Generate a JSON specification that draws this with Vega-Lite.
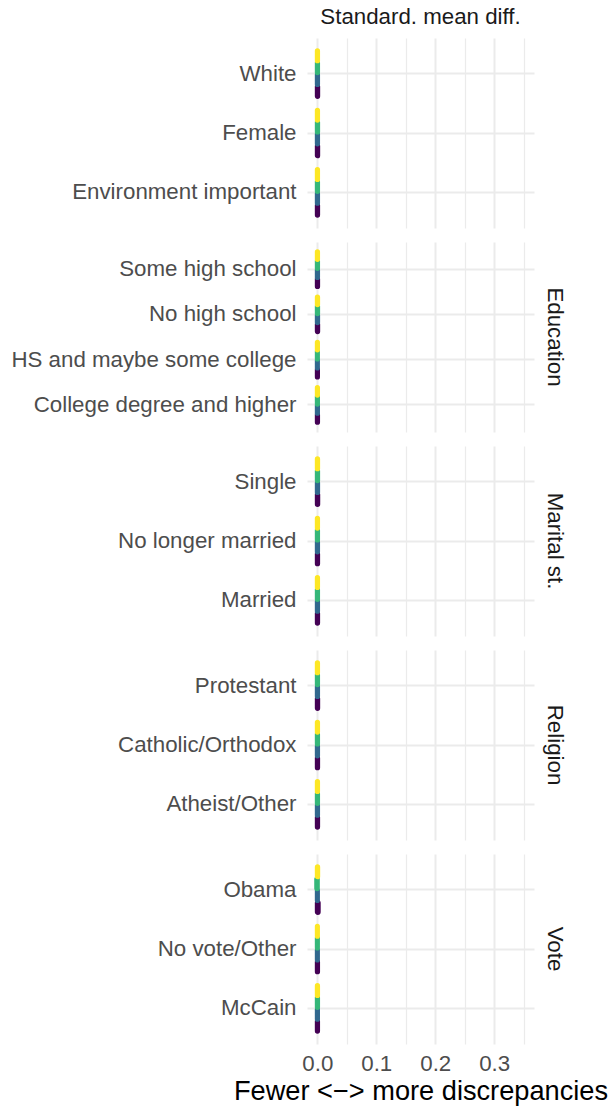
{
  "$schema": "https://vega.github.io/schema/vega-lite/v6.json",
  "padding": {"left": 10, "top": 5, "right": 5, "bottom": 5},
  "background": "white",
  "data": {"values": [
    {"p": " ", "v": "White", "g": "a", "d": 0.0006, "s": "Standard. mean diff."},
    {"p": " ", "v": "White", "g": "b", "d": 0.0004, "s": "Standard. mean diff."},
    {"p": " ", "v": "White", "g": "c", "d": 0.0004, "s": "Standard. mean diff."},
    {"p": " ", "v": "White", "g": "d", "d": 0.0004, "s": "Standard. mean diff."},
    {"p": " ", "v": "Female", "g": "a", "d": 0.0006, "s": "Standard. mean diff."},
    {"p": " ", "v": "Female", "g": "b", "d": 0.0004, "s": "Standard. mean diff."},
    {"p": " ", "v": "Female", "g": "c", "d": 0.0005, "s": "Standard. mean diff."},
    {"p": " ", "v": "Female", "g": "d", "d": 0.0004, "s": "Standard. mean diff."},
    {"p": " ", "v": "Environment important", "g": "a", "d": 0.0005, "s": "Standard. mean diff."},
    {"p": " ", "v": "Environment important", "g": "b", "d": 0.0004, "s": "Standard. mean diff."},
    {"p": " ", "v": "Environment important", "g": "c", "d": 0.0004, "s": "Standard. mean diff."},
    {"p": " ", "v": "Environment important", "g": "d", "d": 0.0004, "s": "Standard. mean diff."},
    {"p": "Education", "v": "Some high school", "g": "a", "d": 0.0005, "s": "Standard. mean diff."},
    {"p": "Education", "v": "Some high school", "g": "b", "d": 0.0004, "s": "Standard. mean diff."},
    {"p": "Education", "v": "Some high school", "g": "c", "d": 0.0004, "s": "Standard. mean diff."},
    {"p": "Education", "v": "Some high school", "g": "d", "d": 0.0004, "s": "Standard. mean diff."},
    {"p": "Education", "v": "No high school", "g": "a", "d": 0.0006, "s": "Standard. mean diff."},
    {"p": "Education", "v": "No high school", "g": "b", "d": 0.0005, "s": "Standard. mean diff."},
    {"p": "Education", "v": "No high school", "g": "c", "d": 0.0005, "s": "Standard. mean diff."},
    {"p": "Education", "v": "No high school", "g": "d", "d": 0.0005, "s": "Standard. mean diff."},
    {"p": "Education", "v": "HS and maybe some college", "g": "a", "d": 0.0003, "s": "Standard. mean diff."},
    {"p": "Education", "v": "HS and maybe some college", "g": "b", "d": 0.0002, "s": "Standard. mean diff."},
    {"p": "Education", "v": "HS and maybe some college", "g": "c", "d": 0.0002, "s": "Standard. mean diff."},
    {"p": "Education", "v": "HS and maybe some college", "g": "d", "d": 0.0003, "s": "Standard. mean diff."},
    {"p": "Education", "v": "College degree and higher", "g": "a", "d": 0.0004, "s": "Standard. mean diff."},
    {"p": "Education", "v": "College degree and higher", "g": "b", "d": 0.0003, "s": "Standard. mean diff."},
    {"p": "Education", "v": "College degree and higher", "g": "c", "d": 0.0003, "s": "Standard. mean diff."},
    {"p": "Education", "v": "College degree and higher", "g": "d", "d": 0.0003, "s": "Standard. mean diff."},
    {"p": "Marital st.", "v": "Single", "g": "a", "d": 0.0007, "s": "Standard. mean diff."},
    {"p": "Marital st.", "v": "Single", "g": "b", "d": 0.0005, "s": "Standard. mean diff."},
    {"p": "Marital st.", "v": "Single", "g": "c", "d": 0.0005, "s": "Standard. mean diff."},
    {"p": "Marital st.", "v": "Single", "g": "d", "d": 0.0005, "s": "Standard. mean diff."},
    {"p": "Marital st.", "v": "No longer married", "g": "a", "d": 0.0005, "s": "Standard. mean diff."},
    {"p": "Marital st.", "v": "No longer married", "g": "b", "d": 0.0004, "s": "Standard. mean diff."},
    {"p": "Marital st.", "v": "No longer married", "g": "c", "d": 0.0004, "s": "Standard. mean diff."},
    {"p": "Marital st.", "v": "No longer married", "g": "d", "d": 0.0004, "s": "Standard. mean diff."},
    {"p": "Marital st.", "v": "Married", "g": "a", "d": 0.0005, "s": "Standard. mean diff."},
    {"p": "Marital st.", "v": "Married", "g": "b", "d": 0.0004, "s": "Standard. mean diff."},
    {"p": "Marital st.", "v": "Married", "g": "c", "d": 0.0004, "s": "Standard. mean diff."},
    {"p": "Marital st.", "v": "Married", "g": "d", "d": 0.0004, "s": "Standard. mean diff."},
    {"p": "Religion", "v": "Protestant", "g": "a", "d": 0.0006, "s": "Standard. mean diff."},
    {"p": "Religion", "v": "Protestant", "g": "b", "d": 0.0004, "s": "Standard. mean diff."},
    {"p": "Religion", "v": "Protestant", "g": "c", "d": 0.0004, "s": "Standard. mean diff."},
    {"p": "Religion", "v": "Protestant", "g": "d", "d": 0.0004, "s": "Standard. mean diff."},
    {"p": "Religion", "v": "Catholic/Orthodox", "g": "a", "d": 0.0005, "s": "Standard. mean diff."},
    {"p": "Religion", "v": "Catholic/Orthodox", "g": "b", "d": 0.0004, "s": "Standard. mean diff."},
    {"p": "Religion", "v": "Catholic/Orthodox", "g": "c", "d": 0.0004, "s": "Standard. mean diff."},
    {"p": "Religion", "v": "Catholic/Orthodox", "g": "d", "d": 0.0004, "s": "Standard. mean diff."},
    {"p": "Religion", "v": "Atheist/Other", "g": "a", "d": 0.0005, "s": "Standard. mean diff."},
    {"p": "Religion", "v": "Atheist/Other", "g": "b", "d": 0.0004, "s": "Standard. mean diff."},
    {"p": "Religion", "v": "Atheist/Other", "g": "c", "d": 0.0004, "s": "Standard. mean diff."},
    {"p": "Religion", "v": "Atheist/Other", "g": "d", "d": 0.0004, "s": "Standard. mean diff."},
    {"p": "Vote", "v": "Obama", "g": "a", "d": 0.0015, "s": "Standard. mean diff."},
    {"p": "Vote", "v": "Obama", "g": "b", "d": 0.0002, "s": "Standard. mean diff."},
    {"p": "Vote", "v": "Obama", "g": "c", "d": -0.0010, "s": "Standard. mean diff."},
    {"p": "Vote", "v": "Obama", "g": "d", "d": 0.0006, "s": "Standard. mean diff."},
    {"p": "Vote", "v": "No vote/Other", "g": "a", "d": 0.0004, "s": "Standard. mean diff."},
    {"p": "Vote", "v": "No vote/Other", "g": "b", "d": 0.0002, "s": "Standard. mean diff."},
    {"p": "Vote", "v": "No vote/Other", "g": "c", "d": 0.0002, "s": "Standard. mean diff."},
    {"p": "Vote", "v": "No vote/Other", "g": "d", "d": 0.0002, "s": "Standard. mean diff."},
    {"p": "Vote", "v": "McCain", "g": "a", "d": 0.0004, "s": "Standard. mean diff."},
    {"p": "Vote", "v": "McCain", "g": "b", "d": 0.0003, "s": "Standard. mean diff."},
    {"p": "Vote", "v": "McCain", "g": "c", "d": 0.0004, "s": "Standard. mean diff."},
    {"p": "Vote", "v": "McCain", "g": "d", "d": 0.0004, "s": "Standard. mean diff."}
  ]},
  "facet": {
    "row": {
      "field": "p", "type": "nominal",
      "sort": [" ", "Education", "Marital st.", "Religion", "Vote"],
      "header": {
        "title": null, "labelOrient": "right", "labelAngle": 90,
        "labelFont": "Liberation Sans", "labelFontSize": 22.3, "labelColor": "#1A1A1A",
        "labelPadding": 10
      }
    },
    "column": {
      "field": "s", "type": "nominal",
      "header": {
        "title": null, "labelOrient": "top",
        "labelFont": "Liberation Sans", "labelFontSize": 22.3, "labelColor": "#1A1A1A",
        "labelPadding": 10
      }
    }
  },
  "spacing": {"row": 14, "column": 0},
  "resolve": {"scale": {"y": "independent", "yOffset": "independent"}},
  "spec": {
    "width": 227,
    "height": 190,
    "mark": {"type": "bar", "strokeWidth": 5, "strokeJoin": "round", "cornerRadius": 1, "opacity": 1},
    "encoding": {
      "x": {
        "field": "d", "type": "quantitative",
        "scale": {"domain": [-0.0175, 0.3675], "nice": false, "zero": false},
        "axis": {
          "values": [0, 0.05, 0.1, 0.15, 0.2, 0.25, 0.3, 0.35],
          "labelExpr": "round(datum.value*100) % 10 === 0 ? format(datum.value, '.1f') : ''",
          "title": "Fewer <\u2212> more discrepancies",
          "titleFont": "Liberation Sans", "titleFontSize": 27.2, "titleFontWeight": "normal", "titleColor": "#000000",
          "titlePadding": 4,
          "labelFont": "Liberation Sans", "labelFontSize": 22.3, "labelColor": "#4D4D4D",
          "labelPadding": 8,
          "ticks": false, "domain": false,
          "grid": true, "gridColor": "#EBEBEB",
          "gridWidth": {"condition": {"test": "round(datum.value*100) % 10 === 0", "value": 2}, "value": 1.2}
        }
      },
      "y": {
        "field": "v", "type": "nominal", "sort": "descending",
        "scale": {"type": "band", "paddingInner": 0, "paddingOuter": 0.1},
        "axis": {
          "title": null, "ticks": false, "domain": false,
          "labelFont": "Liberation Sans", "labelFontSize": 22.3, "labelColor": "#4D4D4D",
          "labelPadding": 11, "labelLimit": 500,
          "grid": true, "gridColor": "#EBEBEB", "gridWidth": 2, "bandPosition": 0.5
        }
      },
      "yOffset": {
        "field": "g", "type": "nominal", "sort": "descending",
        "scale": {"paddingInner": 0.15, "paddingOuter": 0.575}
      },
      "color": {
        "field": "g", "type": "nominal", "legend": null,
        "scale": {"domain": ["a", "b", "c", "d"], "range": ["#440154", "#31688E", "#35B779", "#FDE725"]}
      },
      "stroke": {
        "field": "g", "type": "nominal", "legend": null,
        "scale": {"domain": ["a", "b", "c", "d"], "range": ["#440154", "#31688E", "#35B779", "#FDE725"]}
      }
    }
  },
  "config": {
    "view": {"stroke": null},
    "font": "Liberation Sans"
  }
}
